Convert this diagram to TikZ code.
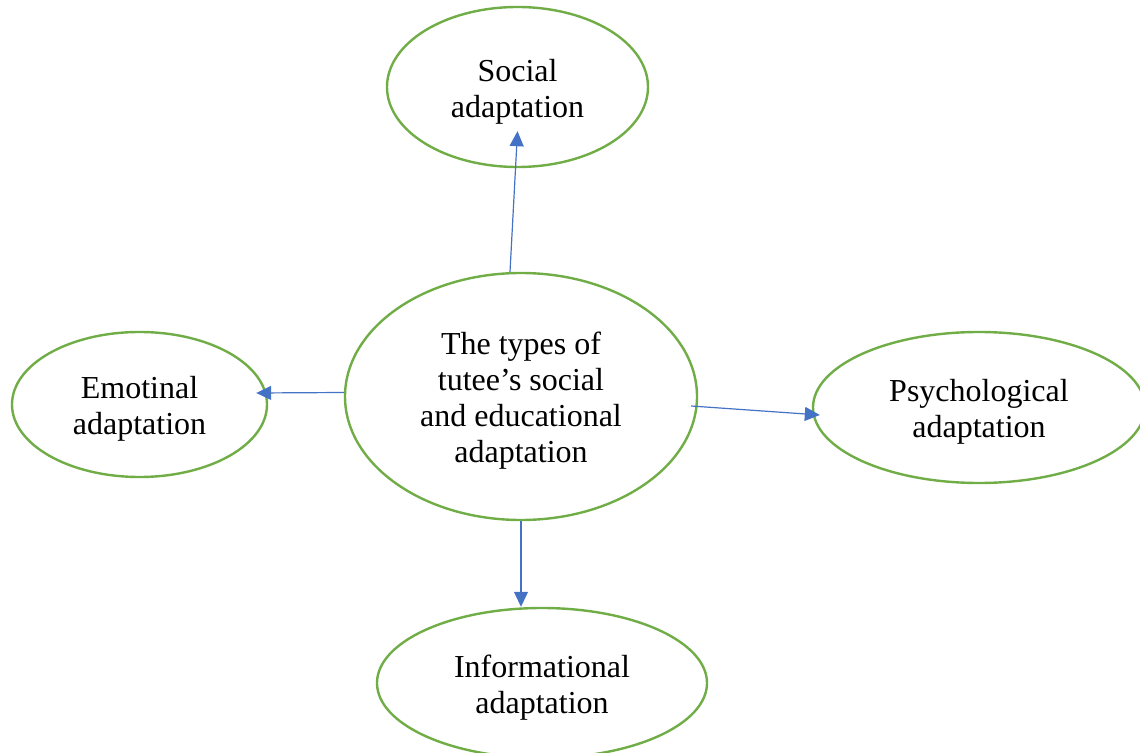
\documentclass[tikz,border=0pt]{standalone}
\usepackage{fontspec}
\setmainfont{Liberation Serif}
\usepackage{tikz}
\usetikzlibrary{arrows.meta,shapes.geometric}

\definecolor{leafgreen}{HTML}{70AD47}
\definecolor{linkblue}{HTML}{4472C4}
\newcommand\lowstrut{\rule{0pt}{15.5pt}}

\begin{document}
\begin{tikzpicture}[x=0.5pt,y=-0.5pt,->,>={Triangle[length=7.5pt,width=7pt]},
line width=0.6pt,linkblue,
type node/.style={ellipse,draw=leafgreen,line width=1.2pt,inner sep=0pt,align=center,
text=black,font=\fontsize{16}{18}\selectfont}]

\useasboundingbox (0,0) rectangle (1140,753);

\node[type node,minimum width=176pt,minimum height=123.5pt] (mid) at (521,396.5)
{\lowstrut The types of\\tutee’s social\\and educational\\adaptation};
\node[type node,minimum width=130.5pt,minimum height=80pt] (soc) at (517.5,87) {\lowstrut Social\\adaptation};
\node[type node,minimum width=127.5pt,minimum height=72.5pt] (emo) at (139.5,404.5) {\lowstrut Emotinal\\adaptation};
\node[type node,minimum width=166pt,minimum height=75.5pt] (psy) at (979,407.5) {\lowstrut Psychological\\adaptation};
\node[type node,minimum width=165pt,minimum height=75pt] (inf) at (542,683) {\lowstrut Informational\\adaptation};

\path
([xshift=-5.5pt]mid.north) edge ([yshift=18.5pt]soc.south)
([yshift=2pt]mid.west) edge ([xshift=-6pt,yshift=5.75pt]emo.east)
([xshift=-3.5pt,yshift=-4.75pt]mid.east) edge ([xshift=4pt,yshift=-3.75pt]psy.west)
(mid.south) edge (mid.south |- inf.north);

\end{tikzpicture}
\end{document}
